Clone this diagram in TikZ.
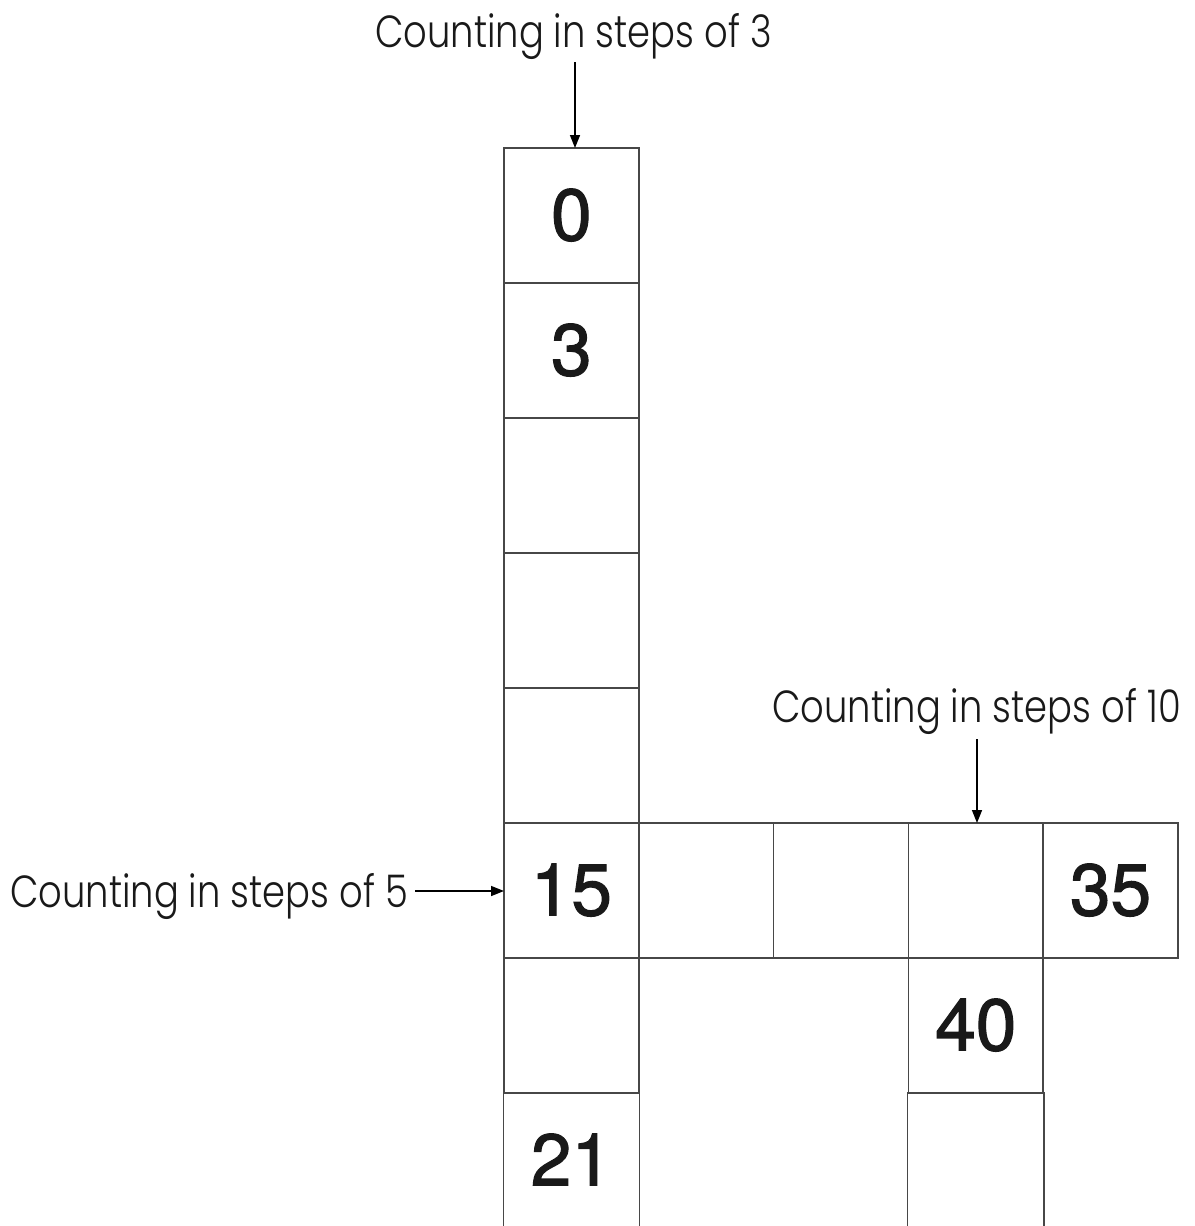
\documentclass[tikz,border=0pt]{standalone}
\usepackage{fontspec}
\usetikzlibrary{arrows.meta,calc}
\newfontfamily\labfont[FakeStretch=0.82,UprightFont={* Light}]{Poppins}
\newfontfamily\numfont[FakeBold=1.6]{TeX Gyre Heros}
\begin{document}
\begin{tikzpicture}[x=1pt,y=-1pt,
  cellbox/.style={rectangle,draw=black!72,line width=1.5pt,minimum width=134.8pt,minimum height=135pt,inner sep=0pt,
    font=\numfont\fontsize{73}{73}\selectfont,text=black!90},
  opencell/.style={cellbox,draw=none},
  sideline/.style={draw=black!72,line width=1.5pt},
  lab/.style={font=\labfont\fontsize{45}{45}\selectfont,inner sep=0pt,anchor=base west,text=black!90},
  arr/.style={line width=1.5pt,-{Triangle[length=13pt,width=10pt]}}]
\useasboundingbox (0,0) rectangle (1194,1226);
% vertical column (steps of 3)
\node[cellbox] (c0) at (571.4,215.5) {\raisebox{2pt}{0}};
\node[cellbox] (c3) at (571.4,350.5) {\raisebox{2pt}{3}};
\node[cellbox] (c6) at (571.4,485.5) {};
\node[cellbox] (c9) at (571.4,620.5) {};
\node[cellbox] (c12) at (571.4,755.5) {};
\node[cellbox] (c15) at (571.4,890.5) {\raisebox{2pt}{15}};
\node[cellbox] (c18) at (571.4,1025.5) {};
\node[opencell] (c21) at (571.4,1160.5) {\raisebox{2pt}{21}};
% horizontal row (steps of 5)
\node[cellbox] (c20) at (706.2,890.5) {};
\node[cellbox] (c25) at (841.0,890.5) {};
\node[cellbox] (c30) at (975.8,890.5) {};
\node[cellbox] (c35) at (1110.6,890.5) {\raisebox{2pt}{35}};
% column (steps of 10)
\node[cellbox] (c40) at (975.8,1025.5) {\raisebox{2pt}{40}};
\node[opencell] (c50) at (975.8,1160.5) {};
% open sides
\draw[sideline] (c21.north west) -- (c21.south west);
\draw[sideline] (c21.north east) -- (c21.south east);
\draw[sideline] (c50.north west) -- (c50.south west);
\draw[sideline] (c50.north east) -- (c50.south east);
% labels
\node[lab] (l3) at (375,47) {Counting in steps of 3};
\node[lab] (l10) at (772,722) {Counting in steps of 10};
\node[lab] (l5) at (10,907) {Counting in steps of 5};
% arrows
\coordinate (s3) at (575,62);
\coordinate (t3) at (575,148);
\coordinate (s10) at (977,739);
\coordinate (t10) at (977,823);
\coordinate (s5) at (415,891);
\coordinate (t5) at (504,891);
\draw[arr] (s3) -- (t3);
\draw[arr] (s10) -- (t10);
\draw[arr] (s5) -- (t5);
\end{tikzpicture}
\end{document}
